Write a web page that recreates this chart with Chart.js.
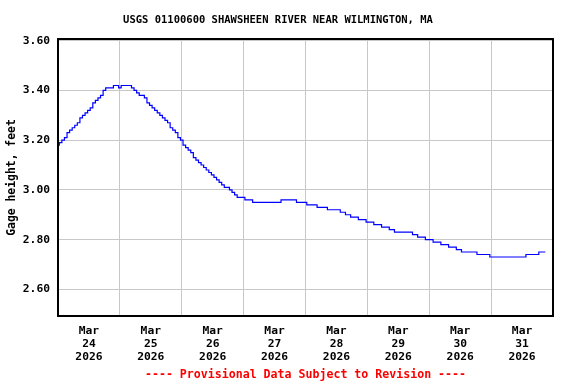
<!DOCTYPE html>
<html>
<head>
<meta charset="utf-8">
<script src="https://cdn.jsdelivr.net/npm/chart.js@4"></script>
<style>
  body { margin: 0; background: #fff; }
  #wrap { width: 576px; height: 384px; position: relative; }
</style>
</head>
<body>
<div id="wrap"><canvas id="gageChart"></canvas></div>
<script>
// Chart text
const chartTitle = 'USGS 01100600 SHAWSHEEN RIVER NEAR WILMINGTON, MA';
const footerText = '---- Provisional Data Subject to Revision ----';
const yAxisTitle = 'Gage height, feet';

// Day labels (x axis), each centred on noon of the day
const monthLabel = 'Mar';
const yearLabel = '2026';
const dayLabels = ['24', '25', '26', '27', '28', '29', '30', '31'];

// Y axis ticks, feet
const yTicks = [2.60, 2.80, 3.00, 3.20, 3.40, 3.60];

// Hourly gage height (feet), starting Mar 24 00:00
const gageHeight = [
  // Mar 24
  3.18, 3.19, 3.20, 3.21, 3.23, 3.24, 3.25, 3.26, 3.27, 3.29, 3.30, 3.31,
  3.32, 3.33, 3.35, 3.36, 3.37, 3.38, 3.40, 3.41, 3.41, 3.41, 3.42, 3.42,
  // Mar 25
  3.41, 3.42, 3.42, 3.42, 3.42, 3.41, 3.40, 3.39, 3.38, 3.38, 3.37, 3.35,
  3.34, 3.33, 3.32, 3.31, 3.30, 3.29, 3.28, 3.27, 3.25, 3.24, 3.23, 3.21,
  // Mar 26
  3.20, 3.18, 3.17, 3.16, 3.15, 3.13, 3.12, 3.11, 3.10, 3.09, 3.08, 3.07,
  3.06, 3.05, 3.04, 3.03, 3.02, 3.01, 3.01, 3.00, 2.99, 2.98, 2.97, 2.97,
  // Mar 27
  2.97, 2.96, 2.96, 2.96, 2.95, 2.95, 2.95, 2.95, 2.95, 2.95, 2.95, 2.95,
  2.95, 2.95, 2.95, 2.96, 2.96, 2.96, 2.96, 2.96, 2.96, 2.95, 2.95, 2.95,
  // Mar 28
  2.95, 2.94, 2.94, 2.94, 2.94, 2.93, 2.93, 2.93, 2.93, 2.92, 2.92, 2.92,
  2.92, 2.92, 2.91, 2.91, 2.90, 2.90, 2.89, 2.89, 2.89, 2.88, 2.88, 2.88,
  // Mar 29
  2.87, 2.87, 2.87, 2.86, 2.86, 2.86, 2.85, 2.85, 2.85, 2.84, 2.84, 2.83,
  2.83, 2.83, 2.83, 2.83, 2.83, 2.83, 2.82, 2.82, 2.81, 2.81, 2.81, 2.80,
  // Mar 30
  2.80, 2.80, 2.79, 2.79, 2.79, 2.78, 2.78, 2.78, 2.77, 2.77, 2.77, 2.76,
  2.76, 2.75, 2.75, 2.75, 2.75, 2.75, 2.75, 2.74, 2.74, 2.74, 2.74, 2.74,
  // Mar 31 (ends ~21:00)
  2.73, 2.73, 2.73, 2.73, 2.73, 2.73, 2.73, 2.73, 2.73, 2.73, 2.73, 2.73,
  2.73, 2.73, 2.74, 2.74, 2.74, 2.74, 2.74, 2.75, 2.75, 2.75
];

const monoFont = "'DejaVu Sans Mono', 'Liberation Mono', monospace";

// title, footer and the black frame round the plot
const framePlugin = {
  id: 'frameAndText',
  afterDraw(chart) {
    const { ctx, chartArea: a } = chart;
    ctx.save();
    ctx.strokeStyle = '#000';
    ctx.lineWidth = 2;
    ctx.strokeRect(a.left, a.top, a.right - a.left, a.bottom - a.top);
    ctx.textAlign = 'center';
    ctx.textBaseline = 'middle';
    ctx.fillStyle = '#000';
    ctx.font = 'bold 10.5px ' + monoFont;
    ctx.fillText(chartTitle, 278, 20);
    ctx.fillStyle = '#ff0000';
    ctx.font = 'bold 11.6px ' + monoFont;
    ctx.fillText(footerText, (a.left + a.right) / 2, 375);
    ctx.restore();
  }
};

const ctx = document.getElementById('gageChart').getContext('2d');
new Chart(ctx, {
  type: 'line',
  data: {
    datasets: [{
      data: gageHeight.map((v, i) => ({ x: i, y: v })),
      borderColor: '#0000ff',
      borderWidth: 1.2,
      pointRadius: 0,
      stepped: 'middle',
      fill: false
    }]
  },
  options: {
    responsive: true,
    maintainAspectRatio: false,
    animation: false,
    layout: { padding: { top: 39, right: 23, left: 0, bottom: 0 } },
    plugins: {
      legend: { display: false },
      tooltip: { enabled: false }
    },
    scales: {
      x: {
        type: 'linear',
        min: 0,
        max: dayLabels.length * 24,
        afterBuildTicks: scale => {
          scale.ticks = [];
          for (let h = 0; h <= dayLabels.length * 24; h += 12) scale.ticks.push({ value: h });
        },
        afterFit: scale => { scale.height = 68; },
        border: { display: false },
        grid: {
          drawTicks: false,
          lineWidth: 1,
          color: c => {
            const v = c.tick ? c.tick.value : -1;
            return (v > 0 && v < dayLabels.length * 24 && v % 24 === 0) ? '#c8c8c8' : 'rgba(0,0,0,0)';
          }
        },
        ticks: {
          autoSkip: false,
          maxRotation: 0,
          padding: 9,
          color: '#000',
          font: { family: monoFont, size: 11.3, weight: 'bold', lineHeight: 1.15 },
          callback: v => (v % 24 === 12) ? [monthLabel, dayLabels[(v - 12) / 24], yearLabel] : ''
        }
      },
      y: {
        min: 2.4926,
        max: 3.607,
        afterBuildTicks: scale => { scale.ticks = yTicks.map(v => ({ value: v })); },
        afterFit: scale => { scale.width = 58; },
        border: { display: false },
        grid: { drawTicks: false, color: '#c8c8c8', lineWidth: 1 },
        ticks: {
          padding: 8,
          color: '#000',
          font: { family: monoFont, size: 11.3, weight: 'bold' },
          callback: v => v.toFixed(2)
        },
        title: {
          display: true,
          text: yAxisTitle,
          color: '#000',
          padding: { top: 5, bottom: 0 },
          font: { family: monoFont, size: 11.4, weight: 'bold' }
        }
      }
    }
  },
  plugins: [framePlugin]
});
</script>
</body>
</html>
